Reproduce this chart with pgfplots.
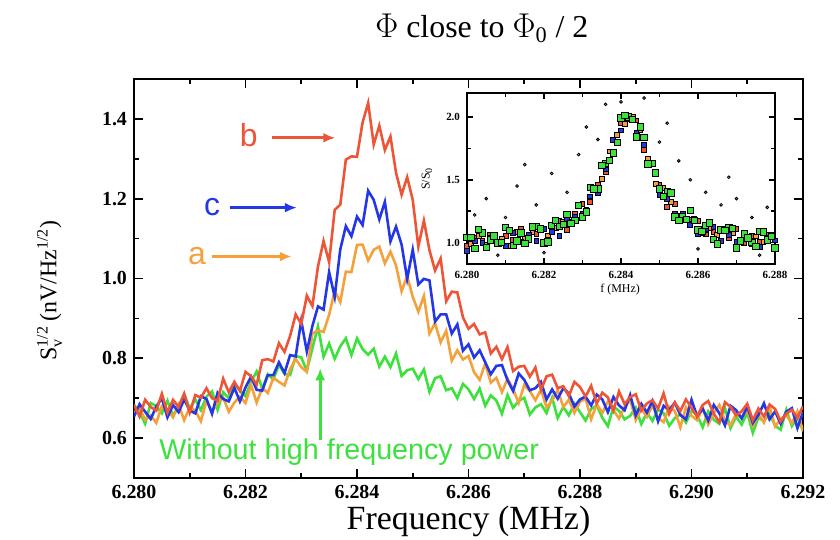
\documentclass[border=0pt]{standalone}
\usepackage{fontspec}
\setmainfont{Liberation Serif}
\newfontfamily\sansf{Liberation Sans}
\usepackage{amsmath}
\usepackage{pgfplots}
\usepackage{pgfplotstable}
\pgfplotsset{compat=1.18}
\usetikzlibrary{arrows.meta}
\definecolor{colB}{RGB}{238,85,55}
\definecolor{colC}{RGB}{35,55,230}
\definecolor{colA}{RGB}{246,160,60}
\definecolor{colG}{RGB}{60,225,60}
\definecolor{colM}{RGB}{220,130,220}

\pgfplotstableread{
x a b c g
6.2800 0.664 0.683 0.654 0.683
6.2801 0.675 0.654 0.685 0.665
6.2802 0.646 0.696 0.666 0.636
6.2803 0.657 0.678 0.648 0.688
6.2804 0.638 0.669 0.679 0.680
6.2805 0.680 0.711 0.700 0.662
6.2806 0.671 0.664 0.652 0.694
6.2807 0.652 0.696 0.683 0.656
6.2808 0.684 0.678 0.665 0.679
6.2809 0.645 0.711 0.697 0.711
6.2810 0.677 0.664 0.669 0.674
6.2811 0.669 0.708 0.662 0.697
6.2812 0.642 0.701 0.705 0.670
6.2813 0.694 0.725 0.698 0.704
6.2814 0.666 0.700 0.661 0.717
6.2815 0.689 0.694 0.714 0.671
6.2816 0.702 0.749 0.698 0.715
6.2817 0.666 0.715 0.692 0.700
6.2818 0.689 0.741 0.726 0.735
6.2819 0.704 0.718 0.692 0.720
6.2820 0.688 0.766 0.727 0.705
6.2821 0.733 0.755 0.754 0.741
6.2822 0.689 0.734 0.721 0.767
6.2823 0.726 0.795 0.719 0.723
6.2824 0.713 0.798 0.758 0.760
6.2825 0.751 0.792 0.758 0.747
6.2826 0.741 0.838 0.790 0.784
6.2827 0.732 0.816 0.763 0.761
6.2828 0.773 0.856 0.808 0.758
6.2829 0.798 0.910 0.805 0.806
6.2830 0.778 0.886 0.894 0.802
6.2831 0.766 0.957 0.817 0.769
6.2832 0.862 0.931 0.881 0.825
6.2833 0.870 1.030 0.930 0.880
6.2834 0.866 1.094 0.922 0.804
6.2835 0.909 1.041 1.016 0.837
6.2836 0.969 1.172 0.954 0.799
6.2837 0.941 1.185 1.073 0.830
6.2838 1.017 1.298 1.131 0.850
6.2839 1.016 1.306 1.106 0.808
6.2840 1.084 1.305 1.155 0.850
6.2841 1.085 1.391 1.134 0.823
6.2842 1.045 1.440 1.220 0.809
6.2843 1.072 1.336 1.197 0.824
6.2844 1.080 1.383 1.148 0.779
6.2845 1.038 1.322 1.192 0.804
6.2846 1.067 1.356 1.093 0.778
6.2847 1.033 1.265 1.130 0.812
6.2848 0.968 1.210 1.085 0.756
6.2849 1.006 1.254 0.999 0.770
6.2850 0.954 1.197 1.072 0.774
6.2851 0.917 1.080 0.985 0.748
6.2852 0.956 1.145 0.999 0.772
6.2853 0.862 1.071 0.995 0.716
6.2854 0.888 1.020 0.892 0.750
6.2855 0.840 1.050 0.910 0.755
6.2856 0.869 0.943 0.910 0.720
6.2857 0.794 0.967 0.862 0.725
6.2858 0.820 0.965 0.885 0.700
6.2859 0.797 0.903 0.819 0.736
6.2860 0.806 0.874 0.835 0.722
6.2861 0.765 0.886 0.802 0.698
6.2862 0.746 0.860 0.820 0.724
6.2863 0.787 0.865 0.790 0.681
6.2864 0.739 0.812 0.760 0.707
6.2865 0.751 0.829 0.781 0.694
6.2866 0.715 0.798 0.783 0.661
6.2867 0.749 0.828 0.745 0.708
6.2868 0.723 0.768 0.718 0.676
6.2869 0.688 0.779 0.762 0.693
6.2870 0.733 0.781 0.746 0.701
6.2871 0.718 0.754 0.720 0.659
6.2872 0.695 0.777 0.725 0.677
6.2873 0.721 0.721 0.741 0.685
6.2874 0.677 0.755 0.697 0.663
6.2875 0.694 0.759 0.722 0.701
6.2876 0.721 0.725 0.699 0.650
6.2877 0.678 0.730 0.725 0.678
6.2878 0.696 0.705 0.712 0.657
6.2879 0.663 0.741 0.679 0.686
6.2880 0.691 0.728 0.697 0.665
6.2881 0.699 0.704 0.704 0.644
6.2882 0.647 0.731 0.682 0.673
6.2883 0.685 0.687 0.709 0.682
6.2884 0.663 0.714 0.697 0.651
6.2885 0.692 0.702 0.665 0.630
6.2886 0.670 0.669 0.703 0.679
6.2887 0.649 0.717 0.682 0.668
6.2888 0.678 0.685 0.670 0.647
6.2889 0.696 0.703 0.708 0.656
6.2890 0.645 0.710 0.657 0.676
6.2891 0.674 0.669 0.686 0.635
6.2892 0.653 0.687 0.664 0.664
6.2893 0.682 0.695 0.693 0.643
6.2894 0.651 0.674 0.642 0.672
6.2895 0.640 0.712 0.681 0.662
6.2896 0.679 0.661 0.670 0.631
6.2897 0.668 0.689 0.689 0.650
6.2898 0.627 0.668 0.658 0.660
6.2899 0.677 0.697 0.647 0.639
6.2900 0.656 0.676 0.696 0.668
6.2901 0.645 0.654 0.655 0.658
6.2902 0.675 0.683 0.674 0.627
6.2903 0.634 0.693 0.644 0.667
6.2904 0.663 0.661 0.683 0.646
6.2905 0.683 0.640 0.662 0.636
6.2906 0.643 0.690 0.632 0.675
6.2907 0.632 0.678 0.681 0.625
6.2908 0.661 0.657 0.670 0.654
6.2909 0.651 0.667 0.649 0.634
6.2910 0.670 0.686 0.679 0.663
6.2911 0.630 0.645 0.638 0.613
6.2912 0.660 0.674 0.658 0.652
6.2913 0.639 0.654 0.687 0.642
6.2914 0.679 0.684 0.647 0.662
6.2915 0.629 0.673 0.667 0.631
6.2916 0.648 0.642 0.636 0.621
6.2917 0.658 0.661 0.666 0.671
6.2918 0.637 0.671 0.675 0.630
6.2919 0.667 0.651 0.625 0.650
6.2920 0.617 0.680 0.665 0.620
}\mainData

\begin{document}
\begin{tikzpicture}
\path[use as bounding box] (0,0) rectangle (420bp,270bp);
\begin{axis}[
  at={(67bp,31bp)}, anchor=south west, scale only axis,
  width=334.5bp, height=199.5bp,
  xmin=6.280, xmax=6.292, ymin=0.5, ymax=1.5,
  xtick={6.280,6.282,6.284,6.286,6.288,6.290,6.292},
  xticklabels={6.280,6.282,6.284,6.286,6.288,6.290,6.292},
  ytick={0.6,0.8,1.0,1.2,1.4},
  yticklabels={0.6,0.8,1.0,1.2,1.4},
  minor x tick num=1, minor y tick num=1,
  tick align=inside, major tick length=4.5bp, minor tick length=2.5bp,
  tick style={black, line width=0.9pt},
  axis line style={line width=1.2pt},
  tick label style={font=\fontsize{10}{10}\selectfont\bfseries},
  xlabel={Frequency (MHz)},
  xlabel style={at={(axis description cs:0.5,-0.108)}, anchor=center, font=\fontsize{17}{17}\selectfont},
  ylabel={S$_{\text{v}}^{\text{1/2}}$\,(nV/Hz$^{\text{1/2}}$)},
  ylabel style={at={(axis description cs:-0.126,0.47)}, anchor=center, font=\fontsize{12}{12}\selectfont},
  title={$\Phi$ close to $\Phi$\textsubscript{0} / 2},
  title style={at={(axis description cs:0.52,1.098)}, anchor=center, font=\fontsize{16}{16}\selectfont},
]
\addplot[colG, line width=1.3pt] table[x=x, y=g]{\mainData};
\addplot[colA, line width=1.3pt] table[x=x, y=a]{\mainData};
\addplot[colC, line width=1.3pt] table[x=x, y=c]{\mainData};
\addplot[colB, line width=1.3pt] table[x=x, y=b]{\mainData};

% frame tick marks
\pgfplotsinvokeforeach{6.280,6.282,6.284,6.286,6.288,6.290,6.292}{
  \draw[black, line width=0.9pt] (axis cs:#1,0.5) -- ++(0pt,4.5bp);
  \draw[black, line width=0.9pt] (axis cs:#1,1.5) -- ++(0pt,-4.5bp);
}
\pgfplotsinvokeforeach{6.281,6.283,6.285,6.287,6.289,6.291}{
  \draw[black, line width=0.9pt] (axis cs:#1,0.5) -- ++(0pt,2.5bp);
  \draw[black, line width=0.9pt] (axis cs:#1,1.5) -- ++(0pt,-2.5bp);
}
\pgfplotsinvokeforeach{0.6,0.8,1.0,1.2,1.4}{
  \draw[black, line width=0.9pt] (axis cs:6.280,#1) -- ++(4.5bp,0pt);
  \draw[black, line width=0.9pt] (axis cs:6.292,#1) -- ++(-4.5bp,0pt);
}
\pgfplotsinvokeforeach{0.7,0.9,1.1,1.3}{
  \draw[black, line width=0.9pt] (axis cs:6.280,#1) -- ++(2.5bp,0pt);
  \draw[black, line width=0.9pt] (axis cs:6.292,#1) -- ++(-2.5bp,0pt);
}

\node[text=colB, font=\sansf\fontsize{16}{16}\selectfont] at (axis cs:6.28206,1.36) {b};
\draw[colB, line width=1.4pt, -{Latex[length=6bp,width=5bp]}] (axis cs:6.28248,1.3525) -- (axis cs:6.28361,1.3525);
\node[text=colC, font=\sansf\fontsize{16}{16}\selectfont] at (axis cs:6.28140,1.18) {c};
\draw[colC, line width=1.4pt, -{Latex[length=6bp,width=5bp]}] (axis cs:6.28172,1.1775) -- (axis cs:6.28292,1.1775);
\node[text=colA, font=\sansf\fontsize{16}{16}\selectfont] at (axis cs:6.28113,1.057) {a};
\draw[colA, line width=1.4pt, -{Latex[length=6bp,width=5bp]}] (axis cs:6.28140,1.055) -- (axis cs:6.28283,1.055);
\draw[colG, line width=1.4pt, -{Latex[length=6bp,width=5bp]}] (axis cs:6.28334,0.595) -- (axis cs:6.28334,0.775);
\node[text=colG, font=\sansf\fontsize{14.4}{14.4}\selectfont] at (axis cs:6.28386,0.565) {Without high frequency power};
\end{axis}

\begin{axis}[
  at={(233.5bp,138bp)}, anchor=south west, scale only axis,
  width=154bp, height=85.5bp,
  xmin=6.280, xmax=6.288, ymin=0.83, ymax=2.19,
  xtick={6.280,6.282,6.284,6.286,6.288},
  xticklabels={6.280,6.282,6.284,6.286,6.288},
  ytick={1.0,1.5,2.0}, yticklabels={1.0,1.5,2.0},
  minor x tick num=1, minor y tick num=1,
  tick align=inside, major tick length=3bp, minor tick length=1.8bp,
  tick style={black, line width=0.8pt},
  axis line style={line width=1.1pt},
  tick label style={font=\fontsize{5.5}{5.5}\selectfont\bfseries},
  xlabel={f (MHz)},
  xlabel style={at={(axis description cs:0.497,-0.152)}, anchor=center, font=\fontsize{6}{6}\selectfont},
  ylabel={S/S$_{\text{0}}$},
  ylabel style={at={(axis description cs:-0.13,0.5)}, anchor=center, font=\fontsize{6}{6}\selectfont},
]
\addplot[only marks, mark=*, mark size=0.7bp, draw=none, fill=colM] coordinates {
(6.2805,1.35) (6.2810,1.20) (6.2813,1.45) (6.2818,1.30) (6.2822,1.55) (6.2826,1.40)
(6.2829,1.70) (6.2831,1.92) (6.2836,2.10) (6.2840,2.12) (6.2846,2.15) (6.2850,1.80)
(6.2855,1.65) (6.2858,1.50) (6.2862,1.40) (6.2866,1.30) (6.2870,1.35) (6.2874,1.20)
(6.2878,1.28) (6.2808,0.90) (6.2820,0.92) (6.2860,0.95) (6.2876,0.90) (6.2815,1.62)
(6.2852,1.95) (6.2868,1.52) (6.2802,1.22) (6.2834,1.82)
};
\addplot[only marks, mark=square*, mark size=1.2bp, draw=none, fill=colB] coordinates {
(6.2800,0.972) (6.2802,1.035) (6.2804,1.018) (6.2806,1.062) (6.2808,0.987) (6.2810,1.053)
(6.2812,1.020) (6.2814,1.108) (6.2816,1.020) (6.2818,1.071) (6.2820,1.108) (6.2822,1.086)
(6.2824,1.171) (6.2826,1.104) (6.2828,1.228) (6.2830,1.306) (6.2832,1.327) (6.2834,1.457)
(6.2836,1.562) (6.2838,1.815) (6.2840,1.952) (6.2842,1.980) (6.2844,1.972) (6.2846,1.735)
(6.2848,1.622) (6.2850,1.457) (6.2852,1.287) (6.2854,1.306) (6.2856,1.188) (6.2858,1.184)
(6.2860,1.171) (6.2862,1.066) (6.2864,1.088) (6.2866,1.091) (6.2868,1.040) (6.2870,1.108)
(6.2872,1.000) (6.2874,1.053) (6.2876,1.007) (6.2878,1.062) (6.2880,1.018)
};
\addplot[only marks, mark=square*, mark size=1.2bp, draw=none, fill=colA] coordinates {
(6.2801,0.993) (6.2803,1.056) (6.2805,0.980) (6.2807,1.044) (6.2809,1.030) (6.2811,0.976)
(6.2813,1.084) (6.2815,1.034) (6.2817,1.085) (6.2819,1.119) (6.2821,1.057) (6.2823,1.118)
(6.2825,1.167) (6.2827,1.165) (6.2829,1.295) (6.2831,1.264) (6.2833,1.418) (6.2835,1.506)
(6.2837,1.726) (6.2839,1.859) (6.2841,1.942) (6.2843,2.002) (6.2845,1.899) (6.2847,1.666)
(6.2849,1.466) (6.2851,1.438) (6.2853,1.324) (6.2855,1.215) (6.2857,1.185) (6.2859,1.187)
(6.2861,1.078) (6.2863,1.117) (6.2865,1.059) (6.2867,1.105) (6.2869,1.074) (6.2871,1.004)
(6.2873,1.036) (6.2875,1.050) (6.2877,1.004) (6.2879,1.060)
};
\addplot[only marks, mark=square*, mark size=1.2bp, draw=none, fill=colC] coordinates {
(6.2800,0.932) (6.2802,1.015) (6.2804,0.998) (6.2806,1.042) (6.2808,0.987) (6.2810,0.973)
(6.2812,1.080) (6.2814,1.008) (6.2816,1.060) (6.2818,1.011) (6.2820,1.108) (6.2822,1.086)
(6.2824,1.051) (6.2826,1.184) (6.2828,1.208) (6.2830,1.226) (6.2832,1.367) (6.2834,1.397)
(6.2836,1.582) (6.2838,1.815) (6.2840,1.892) (6.2842,2.000) (6.2844,1.872) (6.2846,1.775)
(6.2848,1.622) (6.2850,1.377) (6.2852,1.347) (6.2854,1.226) (6.2856,1.228) (6.2858,1.144)
(6.2860,1.071) (6.2862,1.106) (6.2864,1.128) (6.2866,1.011) (6.2868,1.060) (6.2870,1.008)
(6.2872,1.060) (6.2874,0.993) (6.2876,0.967) (6.2878,1.042) (6.2880,1.018)
};
\addplot[only marks, mark=square*, mark size=1.6bp, draw=none, fill=colG] coordinates {
(6.2800,1.042) (6.2802,0.955) (6.2804,1.078) (6.2806,1.022) (6.2808,0.997) (6.2810,1.123)
(6.2812,0.980) (6.2814,1.078) (6.2816,1.030) (6.2818,1.131) (6.2820,0.998) (6.2822,1.136)
(6.2824,1.131) (6.2826,1.224) (6.2828,1.178) (6.2830,1.206) (6.2832,1.437) (6.2834,1.427)
(6.2836,1.632) (6.2838,1.715) (6.2840,1.992) (6.2842,2.000) (6.2844,1.842) (6.2846,1.835)
(6.2848,1.632) (6.2850,1.427) (6.2852,1.407) (6.2854,1.206) (6.2856,1.208) (6.2858,1.254)
(6.2860,1.101) (6.2862,1.136) (6.2864,1.028) (6.2866,1.101) (6.2868,1.120) (6.2870,0.958)
(6.2872,1.070) (6.2874,1.003) (6.2876,1.087) (6.2878,1.022) (6.2880,0.958)
};
\addplot[only marks, mark=square*, mark size=1.6bp, draw=none, fill=colG] coordinates {
(6.2801,1.043) (6.2803,1.106) (6.2805,0.960) (6.2807,1.054) (6.2809,1.000) (6.2811,1.096)
(6.2813,1.014) (6.2815,0.994) (6.2817,1.125) (6.2819,1.109) (6.2821,1.007) (6.2823,1.178)
(6.2825,1.147) (6.2827,1.155) (6.2829,1.295) (6.2831,1.244) (6.2833,1.428) (6.2835,1.616)
(6.2837,1.656) (6.2839,1.799) (6.2841,2.012) (6.2843,1.982) (6.2845,1.919) (6.2847,1.626)
(6.2849,1.556) (6.2851,1.368) (6.2853,1.394) (6.2855,1.175) (6.2857,1.185) (6.2859,1.177)
(6.2861,1.088) (6.2863,1.157) (6.2865,0.989) (6.2867,1.095) (6.2869,1.114) (6.2871,1.014)
(6.2873,1.036) (6.2875,0.970) (6.2877,1.084) (6.2879,1.050)
};
% inset frame tick marks
\pgfplotsinvokeforeach{6.280,6.282,6.284,6.286,6.288}{
  \draw[black, line width=0.8pt] (axis cs:#1,0.83) -- ++(0pt,3bp);
  \draw[black, line width=0.8pt] (axis cs:#1,2.19) -- ++(0pt,-3bp);
}
\pgfplotsinvokeforeach{6.281,6.283,6.285,6.287}{
  \draw[black, line width=0.8pt] (axis cs:#1,0.83) -- ++(0pt,1.8bp);
  \draw[black, line width=0.8pt] (axis cs:#1,2.19) -- ++(0pt,-1.8bp);
}
\pgfplotsinvokeforeach{1.0,1.5,2.0}{
  \draw[black, line width=0.8pt] (axis cs:6.280,#1) -- ++(3bp,0pt);
  \draw[black, line width=0.8pt] (axis cs:6.288,#1) -- ++(-3bp,0pt);
}
\pgfplotsinvokeforeach{1.25,1.75}{
  \draw[black, line width=0.8pt] (axis cs:6.280,#1) -- ++(1.8bp,0pt);
  \draw[black, line width=0.8pt] (axis cs:6.288,#1) -- ++(-1.8bp,0pt);
}
\end{axis}
\end{tikzpicture}
\end{document}
